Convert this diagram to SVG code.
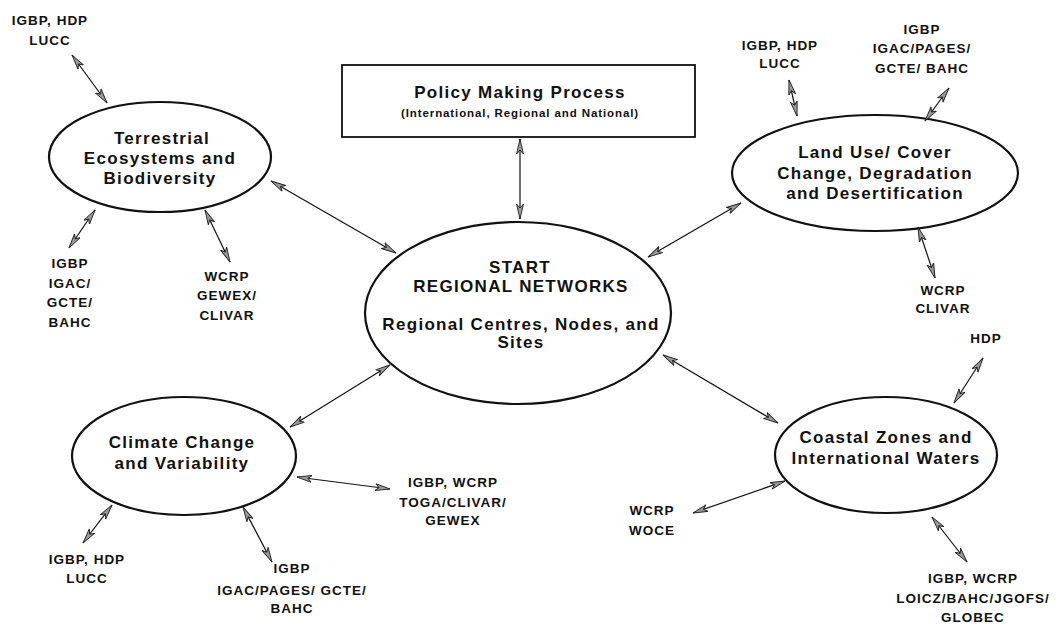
<svg xmlns="http://www.w3.org/2000/svg" width="1062" height="626" viewBox="0 0 1062 626">
<style>
.node{fill:#fff;stroke:#111;stroke-width:2.2}
.box{fill:#fff;stroke:#111;stroke-width:1.8}
.t{font-family:"Liberation Sans",Arial,sans-serif;font-weight:bold;font-size:17px;letter-spacing:1.3px;fill:#111;text-anchor:middle}
.s{font-family:"Liberation Sans",Arial,sans-serif;font-weight:bold;font-size:13.5px;letter-spacing:1px;fill:#111;text-anchor:middle}
.xs{font-family:"Liberation Sans",Arial,sans-serif;font-weight:bold;font-size:11.5px;letter-spacing:0.9px;fill:#111;text-anchor:middle}
.c{stroke:#111;stroke-width:1.2;fill:none;marker-start:url(#ah);marker-end:url(#ah)}
</style>
<defs>
<marker id="ah" markerUnits="userSpaceOnUse" markerWidth="17" markerHeight="9" refX="15" refY="4.5" orient="auto-start-reverse" viewBox="0 0 17 9">
<path d="M0,1 L15,4.5 L0,8 L4,4.5 Z" fill="#9a9a9a" stroke="#222" stroke-width="0.9"/>
</marker>
</defs>
<rect width="1062" height="626" fill="#fff"/>

<g id="policy">
<rect class="box" x="342" y="65" width="353" height="72"/>
<text class="t" x="520" y="98">Policy Making Process</text>
<text class="xs" x="520" y="117">(International, Regional and National)</text>
</g>

<g id="central">
<ellipse class="node" cx="518" cy="313" rx="153" ry="91"/>
<text class="t" x="520" y="273">START</text>
<text class="t" x="521" y="292">REGIONAL NETWORKS</text>
<text class="t" x="521" y="330">Regional Centres, Nodes, and</text>
<text class="t" x="521" y="348">Sites</text>
</g>

<g id="terrestrial">
<ellipse class="node" cx="160" cy="157" rx="111" ry="55"/>
<text class="t" x="162" y="144">Terrestrial</text>
<text class="t" x="160" y="164">Ecosystems and</text>
<text class="t" x="160" y="184">Biodiversity</text>
</g>

<g id="landuse">
<ellipse class="node" cx="875" cy="173" rx="143" ry="58"/>
<text class="t" x="875" y="158">Land Use/ Cover</text>
<text class="t" x="875" y="179">Change, Degradation</text>
<text class="t" x="875" y="199">and Desertification</text>
</g>

<g id="climate">
<ellipse class="node" cx="184" cy="456" rx="112" ry="59"/>
<text class="t" x="182" y="448">Climate Change</text>
<text class="t" x="182" y="469">and Variability</text>
</g>

<g id="coastal">
<ellipse class="node" cx="886" cy="455" rx="111" ry="58"/>
<text class="t" x="886" y="443">Coastal Zones and</text>
<text class="t" x="886" y="464">International Waters</text>
</g>

<g id="connectors">
<line class="c" x1="520" y1="139" x2="520" y2="219"/>
<line class="c" x1="271" y1="181" x2="396" y2="253"/>
<line class="c" x1="648" y1="257" x2="741" y2="203"/>
<line class="c" x1="390" y1="365" x2="290" y2="427"/>
<line class="c" x1="663" y1="355" x2="778" y2="423"/>
<line class="c" x1="72" y1="55" x2="107" y2="103"/>
<line class="c" x1="95" y1="210" x2="69" y2="248"/>
<line class="c" x1="205" y1="210" x2="230" y2="262"/>
<line class="c" x1="789" y1="80" x2="797" y2="116"/>
<line class="c" x1="949" y1="88" x2="925" y2="121"/>
<line class="c" x1="918" y1="227" x2="935" y2="278"/>
<line class="c" x1="983" y1="358" x2="954" y2="403"/>
<line class="c" x1="693" y1="513" x2="785" y2="481"/>
<line class="c" x1="932" y1="517" x2="967" y2="562"/>
<line class="c" x1="297" y1="477" x2="390" y2="489"/>
<line class="c" x1="112" y1="505" x2="83" y2="543"/>
<line class="c" x1="243" y1="507" x2="272" y2="562"/>
</g>

<g id="labels">
<text class="s" x="50" y="25">IGBP, HDP</text>
<text class="s" x="50" y="45">LUCC</text>

<text class="s" x="70" y="268">IGBP</text>
<text class="s" x="70" y="288">IGAC/</text>
<text class="s" x="70" y="307">GCTE/</text>
<text class="s" x="70" y="327">BAHC</text>

<text class="s" x="227" y="281">WCRP</text>
<text class="s" x="227" y="300">GEWEX/</text>
<text class="s" x="227" y="320">CLIVAR</text>

<text class="s" x="780" y="50">IGBP, HDP</text>
<text class="s" x="780" y="68">LUCC</text>

<text class="s" x="922" y="34">IGBP</text>
<text class="s" x="922" y="53">IGAC/PAGES/</text>
<text class="s" x="922" y="73">GCTE/ BAHC</text>

<text class="s" x="943" y="295">WCRP</text>
<text class="s" x="943" y="313">CLIVAR</text>

<text class="s" x="986" y="343">HDP</text>

<text class="s" x="652" y="515">WCRP</text>
<text class="s" x="652" y="535">WOCE</text>

<text class="s" x="973" y="583">IGBP, WCRP</text>
<text class="s" x="973" y="603">LOICZ/BAHC/JGOFS/</text>
<text class="s" x="973" y="622">GLOBEC</text>

<text class="s" x="453" y="487">IGBP, WCRP</text>
<text class="s" x="453" y="507">TOGA/CLIVAR/</text>
<text class="s" x="453" y="525">GEWEX</text>

<text class="s" x="87" y="564">IGBP, HDP</text>
<text class="s" x="87" y="583">LUCC</text>

<text class="s" x="292" y="573">IGBP</text>
<text class="s" x="292" y="595">IGAC/PAGES/ GCTE/</text>
<text class="s" x="292" y="613">BAHC</text>
</g>
</svg>
